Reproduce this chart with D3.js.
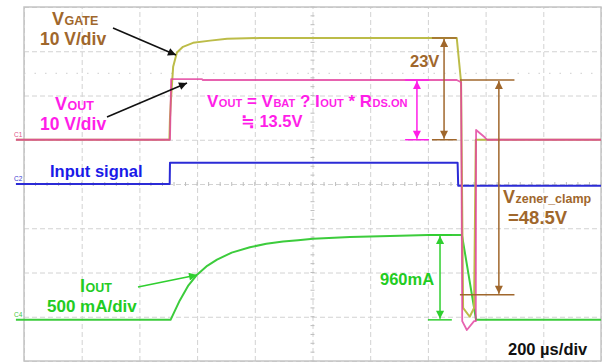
<!DOCTYPE html>
<html>
<head>
<meta charset="utf-8">
<script src="https://cdn.jsdelivr.net/npm/d3@7"></script>
<style>
  html, body { margin: 0; padding: 0; background: #fff; }
  svg { display: block; font-family: "Liberation Sans", "DejaVu Sans", sans-serif; font-weight: 700; }
</style>
</head>
<body>
<svg id="scope" width="602" height="362"></svg>
<script>
// Time base: 200 µs/div, trigger at the centre of the screen (µs)
const timeTicks = d3.range(-1000, 1001, 200);
// Vertical graticule in divisions (8 divisions)
const divTicks = d3.range(-4, 5, 1);

// C1 traces, volts (10 V/div)
const vGate = [
  [-1028, 0], [-496, 0], [-494, 5], [-490, 9.7], [-483, 16.5], [-470, 19.7],
  [-449, 21.0], [-414, 21.9], [-355, 22.4], [-296, 22.8], [-182, 23.0],
  [500, 23.0], [515, 13.0], [522, -38], [545, -40], [560, -38], [566, 0], [1000, 0]
];
const vOut = [
  [-1028, 0], [-494, 0], [-490, 13.7], [-383, 13.7], [-380, 13.5],
  [500, 13.5], [515, 13.0], [519, -41], [535, -43], [560, -41], [566, -41],
  [567, 2.2], [598, 0.5], [605, 0], [1000, 0]
];
// C2 trace, volts (5 V/div)
const inputSignal = [
  [-1028, 0], [-495, 0], [-494, 2.4], [503, 2.4], [505, -0.2], [1000, -0.2]
];
// C4 trace, mA (500 mA/div)
const iOut = [
  [-1028, 0], [-492, 0], [-460, 220], [-430, 390], [-400, 510], [-365, 610],
  [-331, 680], [-280, 760], [-217, 820], [-160, 860], [-102, 885], [-50, 900],
  [2, 915], [130, 935], [303, 950], [400, 958], [505, 960], [518, 960],
  [567, 0], [1000, 0]
];

// Measured levels shown by the dimension arrows
const vOutOn = 13.5;
const vGateOn = 23;
const iOutOn = 960;
const zenerClamp = 48.5;

const svg = d3.select("#scope");

const x = d3.scaleLinear().domain([-1000, 1000]).range([24, 601]);
const yDiv = d3.scaleLinear().domain([-4, 4]).range([361, 7]);

// channel position (divisions from centre) and sensitivity
const channels = {
  c1: { offset: 1.0, perDiv: 10 },
  c2: { offset: 0, perDiv: 5 },
  c4: { offset: -3.07, perDiv: 500 }
};
const yOf = (ch, v) => yDiv(channels[ch].offset + v / channels[ch].perDiv);

// ---- graticule ----
const grid = svg.append("g");
grid.append("g")
  .attr("transform", `translate(0,${yDiv(-4)})`)
  .call(d3.axisBottom(x).tickValues(timeTicks).tickSize(-(yDiv(-4) - yDiv(4))).tickFormat(""))
  .call(g => g.select(".domain").remove());
grid.append("g")
  .attr("transform", `translate(${x(-1000)},0)`)
  .call(d3.axisLeft(yDiv).tickValues(divTicks).tickSize(-(x(1000) - x(-1000))).tickFormat(""))
  .call(g => g.select(".domain").remove());
grid.selectAll(".tick line")
  .attr("stroke", "#d2d2d2")
  .attr("stroke-width", 1)
  .attr("stroke-dasharray", "5,3");

// minor ticks on the centre lines
const minorT = d3.range(-1000, 1001, 40);
const minorV = d3.range(-4, 4.01, 0.2);
grid.selectAll(".mx").data(minorT).join("line")
  .attr("x1", d => x(d)).attr("x2", d => x(d))
  .attr("y1", yDiv(0) - 2).attr("y2", yDiv(0) + 2)
  .attr("stroke", "#bdbdbd").attr("stroke-width", 1);
grid.selectAll(".my").data(minorV).join("line")
  .attr("y1", d => yDiv(d)).attr("y2", d => yDiv(d))
  .attr("x1", x(0) - 2).attr("x2", x(0) + 2)
  .attr("stroke", "#bdbdbd").attr("stroke-width", 1);
// faint dotted reference row
grid.append("line")
  .attr("x1", x(-1000)).attr("x2", x(1000))
  .attr("y1", yDiv(2.5)).attr("y2", yDiv(2.5))
  .attr("stroke", "#d8d8d8").attr("stroke-width", 1.2)
  .attr("stroke-dasharray", "1.5,9");
// screen border
grid.append("rect")
  .attr("x", x(-1000)).attr("y", yDiv(4))
  .attr("width", x(1000) - x(-1000)).attr("height", yDiv(-4) - yDiv(4))
  .attr("fill", "none").attr("stroke", "#c4c4c4").attr("stroke-width", 1.5);

// ---- traces ----
const lineFor = ch => d3.line().x(d => x(d[0])).y(d => yOf(ch, d[1]));
const traces = svg.append("g").attr("fill", "none").attr("stroke-linejoin", "round");
traces.append("path").datum(inputSignal).attr("d", lineFor("c2"))
  .attr("stroke", "#2b2bd6").attr("stroke-width", 2);
traces.append("path").datum(iOut).attr("d", lineFor("c4"))
  .attr("stroke", "#3ccc3c").attr("stroke-width", 2);
traces.append("path").datum(vGate).attr("d", lineFor("c1"))
  .attr("stroke", "#bcbc48").attr("stroke-width", 2);
traces.append("path").datum(vOut).attr("d", lineFor("c1"))
  .attr("stroke", "#e2409e").attr("stroke-width", 1.8).attr("stroke-opacity", 0.82);

// channel markers
const chMarks = [
  { ch: "c1", label: "C1", color: "#e0568a" },
  { ch: "c2", label: "C2", color: "#3a3ad0" },
  { ch: "c4", label: "C4", color: "#44c844" }
];
svg.selectAll(".chm").data(chMarks).join("text")
  .attr("x", 14).attr("y", d => yOf(d.ch, 0) - 3)
  .attr("font-size", 6.5).attr("font-weight", 400)
  .attr("fill", d => d.color).text(d => d.label);

// ---- arrow heads ----
const defs = svg.append("defs");
const heads = { black: "#111", magenta: "#ff1ee8", brown: "#a0672c", green: "#2fcf2f" };
Object.entries(heads).forEach(([k, c]) => {
  defs.append("marker")
    .attr("id", "ah-" + k)
    .attr("viewBox", "0 0 10 10").attr("refX", 10).attr("refY", 5)
    .attr("markerWidth", 9).attr("markerHeight", 8)
    .attr("markerUnits", "userSpaceOnUse")
    .attr("orient", "auto-start-reverse")
    .append("path").attr("d", "M0,0 L10,5 L0,10 Z").attr("fill", c);
});

const ann = svg.append("g");
const seg = (x1, y1, x2, y2, color, w, startHead, endHead) => {
  const l = ann.append("line")
    .attr("x1", x1).attr("y1", y1).attr("x2", x2).attr("y2", y2)
    .attr("stroke", heads[color]).attr("stroke-width", w);
  if (startHead) l.attr("marker-start", `url(#ah-${color})`);
  if (endHead) l.attr("marker-end", `url(#ah-${color})`);
};
// dimension arrow with end ticks
const dim = (t, tTick0, tTick1, yTop, yBot, color) => {
  seg(x(tTick0), yTop, x(tTick1), yTop, color, 1.5);
  seg(x(tTick0), yBot, x(tTick1), yBot, color, 1.5);
  seg(x(t), yTop + 1, x(t), yBot - 1, color, 1.5, true, true);
};

dim(362, 321, 404, yOf("c1", vOutOn), yOf("c1", 0), "magenta");
dim(456, 414, 500, yOf("c1", vGateOn), yOf("c1", 0), "brown");
dim(646, 511, 700, yOf("c1", vOutOn), yOf("c1", vOutOn - zenerClamp), "brown");
dim(442, 400, 483, yOf("c4", iOutOn), yOf("c4", 0), "green");

// pointer arrows to traces
seg(113, 28, 176, 55, "black", 1.6, false, true);
seg(107, 117, 187, 83, "black", 1.6, false, true);
seg(138, 287, 197, 275, "green", 1.6, false, true);

// ---- labels ----
const label = (px, py, color, size, parts) => {
  const t = ann.append("text").attr("x", px).attr("y", py)
    .attr("fill", color).attr("font-size", size);
  parts.forEach(p => {
    if (typeof p === "string") t.append("tspan").text(p);
    else t.append("tspan").attr("dx", 0.5).attr("font-size", p.size || size * 0.65).text(p.sub);
  });
};
const brown = "#a0672c", magenta = "#ff1ee8", green = "#22cc22", blue = "#1a1ae8";

label(52, 25, brown, 18, ["V", { sub: "GATE", size: 12.5 }]);
label(40, 44.5, brown, 17.5, ["10 V/div"]);
label(55, 110, magenta, 18, ["V", { sub: "OUT", size: 12.5 }]);
label(40, 129.5, magenta, 17.5, ["10 V/div"]);
label(207, 107, magenta, 17, ["V", { sub: "OUT" }, " = V", { sub: "BAT" }, " ? I", { sub: "OUT" }, " * R", { sub: "DS.ON" }]);
label(241, 126.5, magenta, 16.5, ["≒ 13.5V"]);
label(410, 67, brown, 16.5, ["23V"]);
label(50, 177, blue, 16.5, ["Input signal"]);
label(503, 203, brown, 18, ["V", { sub: "zener_clamp", size: 12.5 }]);
label(508, 224, brown, 18.5, ["=48.5V"]);
label(380, 285, green, 16.5, ["960mA"]);
label(80, 292, green, 18, ["I", { sub: "OUT", size: 12.5 }]);
label(47, 312, green, 17, ["500 mA/div"]);
label(508, 355, "#111", 16.5, ["200 µs/div"]);
</script>
</body>
</html>
